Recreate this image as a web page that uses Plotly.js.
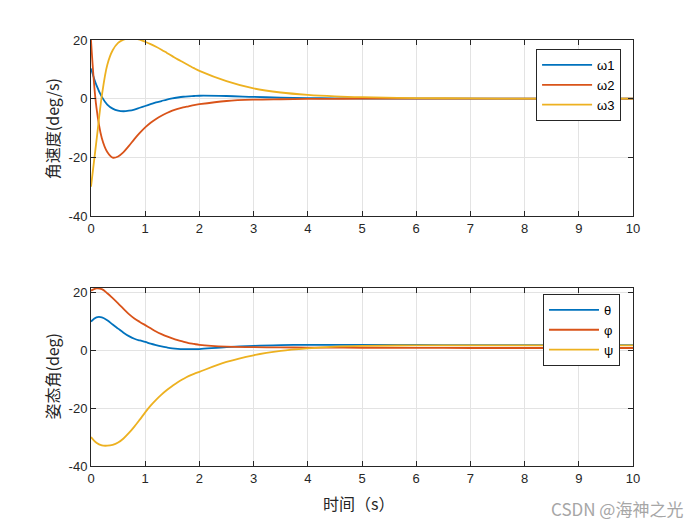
<!DOCTYPE html>
<html>
<head>
<meta charset="utf-8">
<script src="https://cdn.plot.ly/plotly-3.0.1.min.js"></script>
<style>html,body{margin:0;padding:0;background:#fff;}#chart{width:700px;height:525px;}</style>
</head>
<body>
<div id="chart"></div>
<script>
// ---- data ----
var tTop = [0, 0.1, 0.2, 0.3, 0.4, 0.5, 0.6, 0.7, 0.8, 0.9, 1.0, 1.1, 1.2, 1.3, 1.4, 1.5, 1.6, 1.7, 1.8, 1.9, 2.0, 2.5, 3.0, 3.5, 4.0, 4.5, 5.0, 6.0, 7.0, 8.0, 9.0, 10.0];
var omega1 = [10.3, 4.6, 0.6, -2.0, -3.4, -4.1, -4.3, -4.1, -3.7, -3.1, -2.5, -1.9, -1.3, -0.8, -0.3, 0.1, 0.4, 0.65, 0.8, 0.9, 1.0, 0.9, 0.6, 0.35, 0.2, 0.1, 0.05, 0, 0, 0, 0, 0];
var omega2 = [20, -3, -13.5, -18.2, -20.1, -19.7, -18.2, -16.1, -13.8, -11.7, -9.8, -8.2, -6.9, -5.8, -4.9, -4.1, -3.5, -3.0, -2.6, -2.2, -1.9, -0.8, -0.35, -0.2, -0.1, -0.05, 0, 0, 0, 0, 0, 0];
var omega3 = [-30, -14.5, 1, 11.5, 16.5, 19, 20.1, 20.5, 20.5, 20.1, 19.4, 18.6, 17.7, 16.7, 15.6, 14.5, 13.4, 12.4, 11.4, 10.4, 9.5, 6.0, 3.5, 2.1, 1.3, 0.8, 0.5, 0.2, 0.1, 0, 0, 0];

var tBot = [0, 0.1, 0.2, 0.3, 0.4, 0.5, 0.6, 0.7, 0.8, 0.9, 1.0, 1.1, 1.2, 1.3, 1.4, 1.5, 1.6, 1.7, 1.8, 1.9, 2.0, 2.5, 3.0, 3.5, 4.0, 4.5, 5.0, 6.0, 7.0, 8.0, 9.0, 10.0];
var theta = [9.8, 11.3, 11.3, 10.3, 8.8, 7.4, 6.0, 4.8, 3.9, 3.3, 2.8, 2.2, 1.7, 1.25, 0.9, 0.6, 0.4, 0.3, 0.3, 0.3, 0.35, 1.0, 1.45, 1.7, 1.8, 1.8, 1.8, 1.75, 1.7, 1.7, 1.7, 1.7];
var phi = [20.5, 21.3, 21.0, 19.6, 17.9, 16.1, 14.2, 12.4, 10.9, 9.7, 8.6, 7.5, 6.4, 5.5, 4.7, 4.0, 3.4, 2.9, 2.4, 2.1, 1.8, 1.15, 1.0, 0.9, 0.85, 0.82, 0.8, 0.75, 0.7, 0.7, 0.7, 0.7];
var psi = [-30, -32, -32.9, -33, -32.7, -31.9, -30.5, -28.6, -26.4, -24, -21.5, -19.2, -17.2, -15.4, -13.8, -12.4, -11.1, -10.0, -9.0, -8.2, -7.5, -4.1, -1.8, -0.3, 0.6, 1.2, 1.45, 1.6, 1.6, 1.6, 1.6, 1.6];

var topNames = ['ω1', 'ω2', 'ω3'];
var botNames = ['θ', 'φ', 'ψ'];
var xTicks = [0, 1, 2, 3, 4, 5, 6, 7, 8, 9, 10];
var xTickText = ['0', '1', '2', '3', '4', '5', '6', '7', '8', '9', '10'];
var yTicks = [-40, -20, 0, 20];
var yTickText = ['-40', '-20', '0', '20'];
var topYTitle = '角速度(deg/s)';
var botYTitle = '姿态角(deg)';
var xTitle = '时间（s）';
var watermark = 'CSDN @海神之光';

// ---- styles ----
var colors = ['#0072BD', '#D95319', '#EDB120'];
var lw = 1.8;

function tr(x, y, name, i, xa, ya, leg) {
  return {x: x, y: y, name: name, type: 'scatter', mode: 'lines',
    line: {color: colors[i], width: lw, shape: 'spline', smoothing: 1},
    xaxis: xa, yaxis: ya, legend: leg, cliponaxis: true};
}
var data = [
  tr(tTop, omega1, topNames[0], 0, 'x', 'y', 'legend'),
  tr(tTop, omega2, topNames[1], 1, 'x', 'y', 'legend'),
  tr(tTop, omega3, topNames[2], 2, 'x', 'y', 'legend'),
  tr(tBot, theta, botNames[0], 0, 'x2', 'y2', 'legend2'),
  tr(tBot, phi, botNames[1], 1, 'x2', 'y2', 'legend2'),
  tr(tBot, psi, botNames[2], 2, 'x2', 'y2', 'legend2')
];

var tickFont = {family: 'Liberation Sans, Arial, sans-serif', size: 13, color: '#262626'};
function xax(anchor) {
  return {domain: [0, 1], anchor: anchor, range: [0, 10], tickvals: xTicks, ticktext: xTickText, ticks: 'inside', ticklen: 5,
    tickcolor: '#262626', showline: true, linecolor: '#262626', linewidth: 1, mirror: 'ticks',
    showgrid: true, gridcolor: '#e3e3e3', zeroline: false, tickfont: tickFont, fixedrange: true};
}
function yax(anchor, dom, rng) {
  return {domain: dom, anchor: anchor, range: rng, tickvals: yTicks, ticktext: yTickText, ticks: 'inside', ticklen: 5,
    tickcolor: '#262626', showline: true, linecolor: '#262626', linewidth: 1, mirror: 'ticks',
    showgrid: true, gridcolor: '#e3e3e3', zeroline: false, tickfont: tickFont, fixedrange: true};
}
var legFont = {family: 'Liberation Sans, Arial, sans-serif', size: 13, color: '#000'};
var cjk = 'Noto Sans CJK SC, sans-serif';

var layout = {
  width: 700, height: 525,
  margin: {l: 91, r: 67, t: 40, b: 59},
  paper_bgcolor: '#fff', plot_bgcolor: '#fff',
  xaxis: xax('y'),
  yaxis: yax('x', [0.5869, 1], [-40, 20]),
  xaxis2: xax('y2'),
  yaxis2: yax('x2', [0, 0.4178], [-40, 21.4]),
  showlegend: true,
  legend: {x: 0.978, y: 0.979, xanchor: 'right', yanchor: 'top', bgcolor: '#fff',
    bordercolor: '#262626', borderwidth: 1, font: legFont, tracegroupgap: 0, itemwidth: 50},
  legend2: {x: 0.976, y: 0.404, xanchor: 'right', yanchor: 'top', bgcolor: '#fff',
    bordercolor: '#262626', borderwidth: 1, font: legFont, tracegroupgap: 0, itemwidth: 50},
  annotations: [
    {text: topYTitle, xref: 'paper', yref: 'paper', x: -0.072, y: 0.793, xanchor: 'center', yanchor: 'middle',
      textangle: -90, showarrow: false, font: {family: cjk, size: 16, color: '#262626'}},
    {text: botYTitle, xref: 'paper', yref: 'paper', x: -0.072, y: 0.21, xanchor: 'center', yanchor: 'middle',
      textangle: -90, showarrow: false, font: {family: cjk, size: 16, color: '#262626'}},
    {text: xTitle, xref: 'paper', yref: 'paper', x: 0.495, y: -0.087, xanchor: 'center', yanchor: 'middle',
      showarrow: false, font: {family: cjk, size: 16, color: '#262626'}},
    {text: watermark, xref: 'paper', yref: 'paper', x: 1.096, y: -0.0986, xanchor: 'right', yanchor: 'middle',
      showarrow: false, font: {family: cjk, size: 17, color: '#a6a6a6'}}
  ]
};

Plotly.newPlot('chart', data, layout, {displayModeBar: false, staticPlot: true});
</script>
</body>
</html>
